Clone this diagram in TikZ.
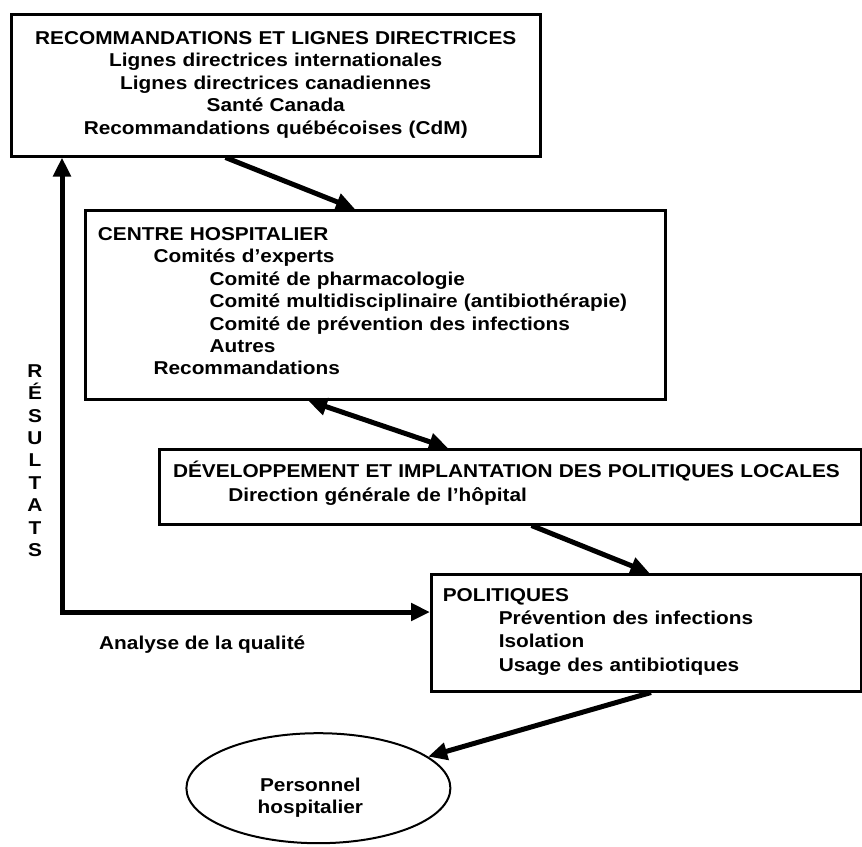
\documentclass[tikz,border=0pt]{standalone}
\usepackage{fontspec}
\setmainfont{Liberation Sans}[FakeStretch=1.12]
\usetikzlibrary{arrows.meta,shapes.geometric}

\begin{document}
\begin{tikzpicture}
        [x=1pt, y=-1pt,
        txt/.style={font=\fontsize{18.6}{22.4}\selectfont\bfseries},
        box/.style={txt, draw, line width=2.5pt, inner sep=0pt, anchor=north west},
        oval/.style={txt, ellipse, draw, line width=2pt, align=center},
        arr/.style={line width=5pt, >={Triangle[length=19pt,width=17pt]}, ->}]
        \useasboundingbox (0,0) rectangle (862,846);

        \node[box, text width=529pt, align=center, text height=30.3pt, text depth=111.7pt] (rec) at (10,13)
            {RECOMMANDATIONS ET LIGNES DIRECTRICES\\
             Lignes directrices internationales\\
             Lignes directrices canadiennes\\
             Santé Canada\\
             Recommandations québécoises (CdM)};
        \node[box, text width=580pt, align=left, text height=30.3pt, text depth=158.7pt] (chc) at (84,209)
            {\hspace*{12.7pt}CENTRE HOSPITALIER\\
             \hspace*{68.3pt}Comités d’experts\\
             \hspace*{124.3pt}Comité de pharmacologie\\
             \hspace*{124.3pt}Comité multidisciplinaire (antibiothérapie)\\
             \hspace*{124.3pt}Comité de prévention des infections\\
             \hspace*{124.3pt}Autres\\
             \hspace*{68.3pt}Recommandations};
        \node[box, text width=702pt, align=left, text height=28.7pt, text depth=46.3pt] (dev) at (158,448)
            {\hspace*{13.8pt}DÉVELOPPEMENT ET IMPLANTATION DES POLITIQUES LOCALES\\[1.6pt]
             \hspace*{69pt}Direction générale de l’hôpital};
        \node[box, text width=430pt, align=left, text height=27pt, text depth=90pt] (pol) at (430,573)
            {\hspace*{11.5pt}POLITIQUES\\[0.9pt]
             \hspace*{67.5pt}Prévention des infections\\[0.9pt]
             \hspace*{67.5pt}Isolation\\[0.9pt]
             \hspace*{67.5pt}Usage des antibiotiques};
        \node[oval, minimum width=264pt, minimum height=110pt, text width=130pt, text height=24pt, text depth=18.4pt] (pers) at (318.4,788.2)
            {\hspace*{-16pt}Personnel\\\hspace*{-16pt}hospitalier};

        \node[txt, text width=20pt, align=center, inner sep=0pt, anchor=base] (res) at (35,377.3)
            {R\\É\\S\\U\\L\\T\\A\\T\\S};
        \node[txt, inner sep=0pt, anchor=base west] (qual) at (99,649) {Analyse de la qualité};
        \coordinate (fb) at (62,612);

        \draw[arr] ([xshift=215.5pt]rec.south west) -- ([xshift=271pt]chc.north west);
        \draw[arr, <->] ([xshift=224pt]chc.south west) -- ([xshift=290pt]dev.north west);
        \draw[arr] ([xshift=373.5pt]dev.south west) -- ([xshift=219.5pt]pol.north west);
        \draw[arr] ([xshift=221pt]pol.south west) -- (pers);
        \draw[arr, <->] (rec.south -| fb) |- (pol.west |- fb);% boucle des résultats

    \end{tikzpicture}
\end{document}
